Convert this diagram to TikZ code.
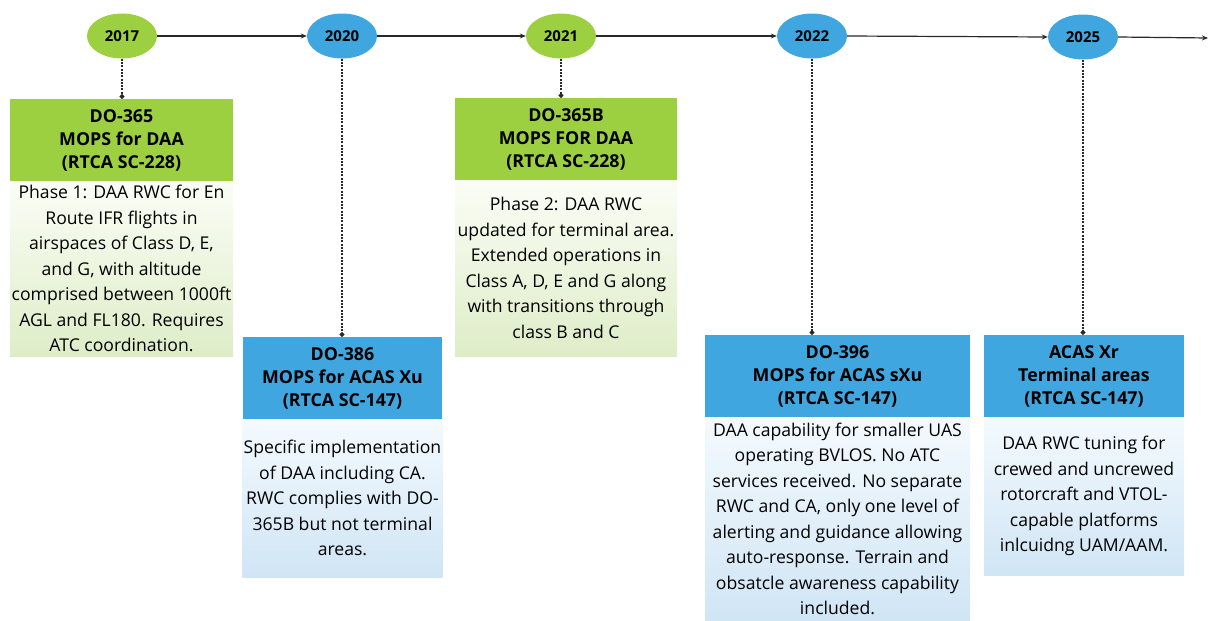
\documentclass[tikz,border=0pt]{standalone}
\usepackage{fontspec}
\setmainfont{Open Sans}
\usepackage{xcolor}
\usepackage{tikz}
\usetikzlibrary{shapes.geometric, arrows.meta}
\definecolor{dgreen}{RGB}{157,208,64}
\definecolor{dblue}{RGB}{64,166,223}
\definecolor{gbodytop}{RGB}{251,253,246}
\definecolor{gbodybot}{RGB}{222,237,200}
\definecolor{bbodytop}{RGB}{244,250,254}
\definecolor{bbodybot}{RGB}{208,229,245}
\definecolor{lineg}{RGB}{40,40,40}

\begin{document}
\begin{tikzpicture}[x=1pt, y=-1pt,
        year/.style={ellipse, minimum width=70pt, minimum height=45pt, inner sep=0pt, font=\bfseries\fontsize{15}{18}\selectfont},
        head/.style={rectangle, anchor=north, outer sep=0pt, minimum height=82pt, align=center, font=\bfseries\fontsize{17.8}{23}\selectfont},
        gbody/.style={rectangle, anchor=north, outer sep=0pt, inner sep=1pt, align=center, top color=gbodytop, bottom color=gbodybot, font=\fontsize{17.6}{25.5}\selectfont},
        bbody/.style={rectangle, anchor=north, outer sep=0pt, inner sep=1pt, align=center, top color=bbodytop, bottom color=bbodybot, font=\fontsize{17.6}{25.5}\selectfont},
        arrow/.style={-{Stealth[length=6pt, width=5pt]}, line width=1.2pt, draw=lineg},
        link/.style={-{Circle[length=5pt]}, line width=1.1pt, draw=lineg, dash pattern=on 2pt off 1.3pt}
    ]
        \useasboundingbox (0,0) rectangle (1208,621);

        % timeline
        \node[year, fill=dgreen] (y2017) at (122,36) {2017};
        \node[year, fill=dblue] (y2020) at (342,36) {2020};
        \node[year, fill=dgreen] (y2021) at (561,36) {2021};
        \node[year, fill=dblue] (y2022) at (812,36) {2022};
        \node[year, fill=dblue] (y2025) at (1083,37) {2025};
        \coordinate (tend) at (1208,38);

        \draw[arrow] (y2017.east) -- (y2020.west);
        \draw[arrow] (y2020.east) -- (y2021.west);
        \draw[arrow] (y2021.east) -- (y2022.west);
        \draw[arrow] (y2022.east) -- (y2025.west);
        \draw[arrow] (y2025.east) -- (tend);

        % 2017
        \node[head, fill=dgreen, minimum width=223pt] (h2017) at (121.5,99) {DO-365\\MOPS for DAA\\(RTCA SC-228)};
        \node[gbody, minimum width=223pt, minimum height=175pt] (b2017) at (h2017.south) {Phase 1: DAA RWC for En\\Route IFR flights in\\airspaces of Class D, E,\\and G, with altitude\\comprised between 1000ft\\AGL and FL180. Requires\\ATC coordination.};

        % 2020
        \node[head, fill=dblue, minimum width=199pt] (h2020) at (342.5,337) {DO-386\\MOPS for ACAS Xu\\(RTCA SC-147)};
        \node[bbody, minimum width=199pt, minimum height=158pt] (b2020) at (h2020.south) {Specific implementation\\of DAA including CA.\\RWC complies with DO-\\365B but not terminal\\areas.};

        % 2021
        \node[head, fill=dgreen, minimum width=222pt] (h2021) at (566,98) {DO-365B\\MOPS FOR DAA\\(RTCA SC-228)};
        \node[gbody, minimum width=222pt, minimum height=176pt] (b2021) at (h2021.south) {Phase 2: DAA RWC\\updated for terminal area.\\Extended operations in\\Class A, D, E and G along\\with transitions through\\class B and C};

        % 2022
        \node[head, fill=dblue, minimum width=265pt] (h2022) at (837.5,335) {DO-396\\MOPS for ACAS sXu\\(RTCA SC-147)};
        \node[bbody, minimum width=265pt, minimum height=204pt] (b2022) at (h2022.south) {DAA capability for smaller UAS\\operating BVLOS. No ATC\\services received. No separate\\RWC and CA, only one level of\\alerting and guidance allowing\\auto-response. Terrain and\\obsatcle awareness capability\\included.};

        % 2025
        \node[head, fill=dblue, minimum width=200pt] (h2025) at (1084,335) {ACAS Xr\\Terminal areas\\(RTCA SC-147)};
        \node[bbody, minimum width=200pt, minimum height=158pt] (b2025) at (h2025.south) {DAA RWC tuning for\\crewed and uncrewed\\rotorcraft and VTOL-\\capable platforms\\inlcuidng UAM/AAM.};

        % drop lines
        \draw[link] (y2017.south) -- (y2017.south |- h2017.north);
        \draw[link] (y2020.south) -- (y2020.south |- h2020.north);
        \draw[link] (y2021.south) -- (y2021.south |- h2021.north);
        \draw[link] (y2022.south) -- (y2022.south |- h2022.north);
        \draw[link] (y2025.south) -- (y2025.south |- h2025.north);
    \end{tikzpicture}
\end{document}
